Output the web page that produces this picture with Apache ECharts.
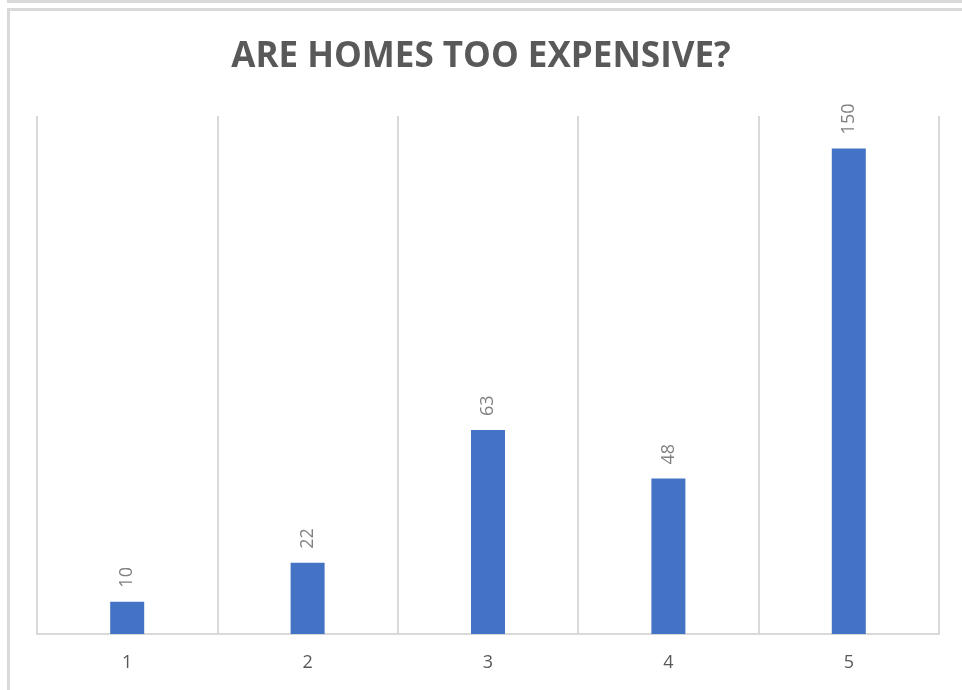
<!DOCTYPE html>
<html>
<head>
<meta charset="utf-8">
<script src="https://cdn.jsdelivr.net/npm/echarts@6/dist/echarts.min.js"></script>
<style>
  html, body { margin: 0; padding: 0; background: #ffffff; }
  #chart { width: 962px; height: 690px; }
</style>
</head>
<body>
<div id="chart"></div>
<script>
// Survey responses: rating (1-5) and number of answers
const categories = ['1', '2', '3', '4', '5'];
const responses = [10, 22, 63, 48, 150];
const titleText = 'ARE HOMES TOO EXPENSIVE?';

const chart = echarts.init(document.getElementById('chart'), null, { renderer: 'canvas' });

const frameColor = '#d9d9d9';
const textGray = '#595959';

chart.setOption({
  backgroundColor: '#ffffff',
  animation: false,
  title: {
    text: titleText,
    left: 'center',
    top: 35,
    textStyle: {
      fontFamily: 'Open Sans',
      fontWeight: 'bold',
      fontSize: 35,
      color: textGray
    }
  },
  graphic: [
    // outer frame edges
    { type: 'rect', shape: { x: 7, y: 0, width: 955, height: 3 }, style: { fill: frameColor }, silent: true },
    { type: 'rect', shape: { x: 7, y: 8, width: 955, height: 3 }, style: { fill: frameColor }, silent: true },
    { type: 'rect', shape: { x: 7, y: 8, width: 3, height: 682 }, style: { fill: frameColor }, silent: true }
  ],
  grid: { left: 37, right: 23, top: 116, bottom: 56, containLabel: false },
  xAxis: {
    type: 'category',
    data: categories,
    boundaryGap: true,
    axisLine: { show: true, lineStyle: { color: frameColor, width: 2 } },
    axisTick: { show: false },
    axisLabel: { color: textGray, fontSize: 18, fontFamily: 'Open Sans', margin: 20 },
    splitLine: { show: true, lineStyle: { color: frameColor, width: 2 } }
  },
  yAxis: {
    type: 'value',
    min: 0,
    max: 160,
    show: false,
    splitLine: { show: false }
  },
  series: [{
    type: 'bar',
    data: responses,
    barWidth: 34,
    itemStyle: { color: '#4472c4' },
    label: {
      show: true,
      position: 'top',
      rotate: 90,
      align: 'left',
      verticalAlign: 'middle',
      distance: 14,
      color: '#808080',
      fontSize: 18,
      fontFamily: 'Open Sans'
    }
  }]
});
</script>
</body>
</html>
